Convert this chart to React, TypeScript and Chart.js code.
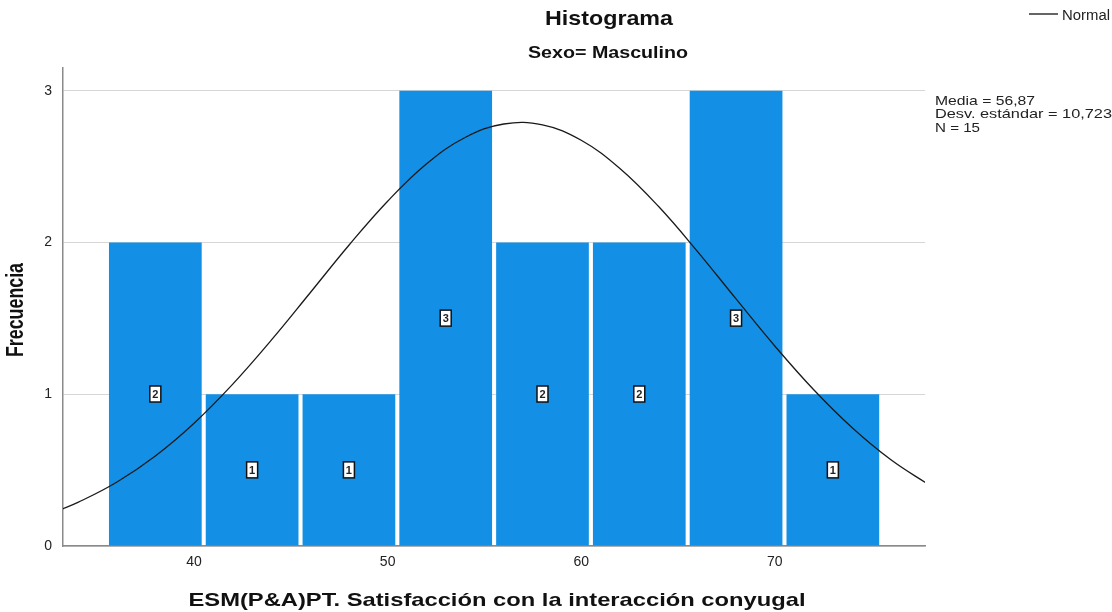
import React, { useEffect, useRef } from "react";
import { Chart, registerables } from "chart.js";

Chart.register(...registerables);

// ---- data ----
const binCenters = [38, 43, 48, 53, 58, 63, 68, 73];
const frequencies = [2, 1, 1, 3, 2, 2, 3, 1];
const normalX = [33, 34, 36, 38, 40, 42, 44, 46, 48, 50, 52, 54, 56, 58, 60, 62, 64, 66, 68, 70, 72, 74, 76, 78];
const normalY = [0.234, 0.287, 0.42, 0.593, 0.809, 1.067, 1.358, 1.669, 1.982, 2.272, 2.517, 2.692, 2.781, 2.775, 2.674, 2.488, 2.237, 1.942, 1.628, 1.318, 1.031, 0.779, 0.568, 0.4];
const xRange = [33.23, 77.76];
const yRange = [0, 3.15];
const xStep = 10;
const yStep = 1;
const statsLines = ["Media = 56,87", "Desv. estándar = 10,723", "N = 15"];
const titleText = "Histograma";
const subtitleText = "Sexo= Masculino";
const xTitleText = "ESM(P&A)PT. Satisfacción con la interacción conyugal";
const yTitleText = "Frecuencia";
const legendLabel = "Normal";

const FONT = "'Liberation Sans', Arial, sans-serif";
const BAR_COLOR = "#1390e6";

function drawFit(
  ctx: CanvasRenderingContext2D,
  text: string,
  x: number,
  y: number,
  font: string,
  width: number,
  align: CanvasTextAlign
) {
  ctx.save();
  ctx.font = font;
  const w = ctx.measureText(text).width;
  ctx.translate(x, y);
  ctx.scale(width / w, 1);
  ctx.textAlign = align;
  ctx.textBaseline = "alphabetic";
  ctx.fillText(text, 0, 0);
  ctx.restore();
}

const decorPlugin = {
  id: "decor",
  afterDatasetsDraw(chart: any) {
    const ctx: CanvasRenderingContext2D = chart.ctx;
    // value boxes in the middle of each bar
    const meta = chart.getDatasetMeta(1);
    meta.data.forEach((el: any, i: number) => {
      const { x, y, base } = el.getProps(["x", "y", "base"], true);
      const cy = (y + base) / 2;
      const bw = 11;
      const bh = 16;
      ctx.save();
      ctx.fillStyle = "#ffffff";
      ctx.fillRect(x - bw / 2, cy - bh / 2, bw, bh);
      ctx.strokeStyle = "#111";
      ctx.lineWidth = 1.5;
      ctx.strokeRect(x - bw / 2, cy - bh / 2, bw, bh);
      ctx.fillStyle = "#222";
      ctx.font = `bold 11px ${FONT}`;
      ctx.textAlign = "center";
      ctx.textBaseline = "middle";
      ctx.fillText(String(frequencies[i]), x, cy + 1);
      ctx.restore();
    });
  },
  afterDraw(chart: any) {
    const ctx: CanvasRenderingContext2D = chart.ctx;
    ctx.save();
    ctx.fillStyle = "#111";
    drawFit(ctx, titleText, 609, 25, `bold 21px ${FONT}`, 128, "center");
    drawFit(ctx, subtitleText, 608, 58, `bold 16px ${FONT}`, 160, "center");
    drawFit(ctx, xTitleText, 497, 606, `bold 19px ${FONT}`, 617, "center");

    // y title, rotated
    ctx.save();
    ctx.font = `bold 18px ${FONT}`;
    const w = ctx.measureText(yTitleText).width;
    ctx.translate(23, 310);
    ctx.rotate(-Math.PI / 2);
    ctx.scale(94 / w, 1.35);
    ctx.textAlign = "center";
    ctx.textBaseline = "alphabetic";
    ctx.fillText(yTitleText, 0, 0);
    ctx.restore();

    // legend
    ctx.strokeStyle = "#111";
    ctx.lineWidth = 1.3;
    ctx.beginPath();
    ctx.moveTo(1029, 14);
    ctx.lineTo(1058, 14);
    ctx.stroke();
    ctx.fillStyle = "#222";
    drawFit(ctx, legendLabel, 1062, 20, `14px ${FONT}`, 48, "left");

    // stats
    const widths = [100, 177, 45];
    const baselines = [105, 118, 131.5];
    statsLines.forEach((t, i) => {
      drawFit(ctx, t, 935, baselines[i], `13px ${FONT}`, widths[i], "left");
    });
    ctx.restore();
  },
};

export default function App() {
  const canvasRef = useRef<HTMLCanvasElement | null>(null);

  useEffect(() => {
    document.body.style.margin = "0";
    const canvas = canvasRef.current;
    if (!canvas) return;
    const chart = new Chart(canvas, {
      type: "bar",
      data: {
        datasets: [
          {
            type: "line",
            label: legendLabel,
            data: normalX.map((x, i) => ({ x, y: normalY[i] })),
            borderColor: "#1a1a1a",
            borderWidth: 1.3,
            pointRadius: 0,
            tension: 0.4,
            fill: false,
            order: 0,
          } as any,
          {
            type: "bar",
            label: "Frecuencia",
            data: binCenters.map((x, i) => ({ x, y: frequencies[i] })),
            backgroundColor: BAR_COLOR,
            borderWidth: 0,
            barPercentage: 1,
            categoryPercentage: 0.958,
            order: 1,
          } as any,
        ],
      },
      options: {
        responsive: false,
        animation: false,
        layout: { padding: { top: 68, right: 187, left: 0, bottom: 0 } },
        plugins: {
          legend: { display: false },
          title: { display: false },
          tooltip: { enabled: false },
        },
        scales: {
          x: {
            type: "linear",
            min: xRange[0],
            max: xRange[1],
            offset: false,
            grid: { display: false, drawTicks: false },
            border: { display: true, color: "#8a8a8a", width: 1.5 },
            ticks: {
              stepSize: xStep,
              includeBounds: false,
              padding: 8,
              maxRotation: 0,
              color: "#222",
              font: { family: FONT, size: 14 },
            },
            afterFit: (s: any) => {
              s.height = 66;
            },
          },
          y: {
            min: yRange[0],
            max: yRange[1],
            grid: { color: "#d6d6d6", lineWidth: 1, drawTicks: false },
            border: { display: true, color: "#8a8a8a", width: 1.5 },
            ticks: {
              stepSize: yStep,
              includeBounds: false,
              padding: 11,
              color: "#222",
              font: { family: FONT, size: 14 },
            },
            afterFit: (s: any) => {
              s.width = 63;
            },
          },
        },
      } as any,
      plugins: [decorPlugin],
    });
    return () => chart.destroy();
  }, []);

  return (
    <canvas
      ref={canvasRef}
      width={1112}
      height={612}
      style={{ position: "fixed", left: 0, top: 0, width: 1112, height: 612 }}
    />
  );
}
